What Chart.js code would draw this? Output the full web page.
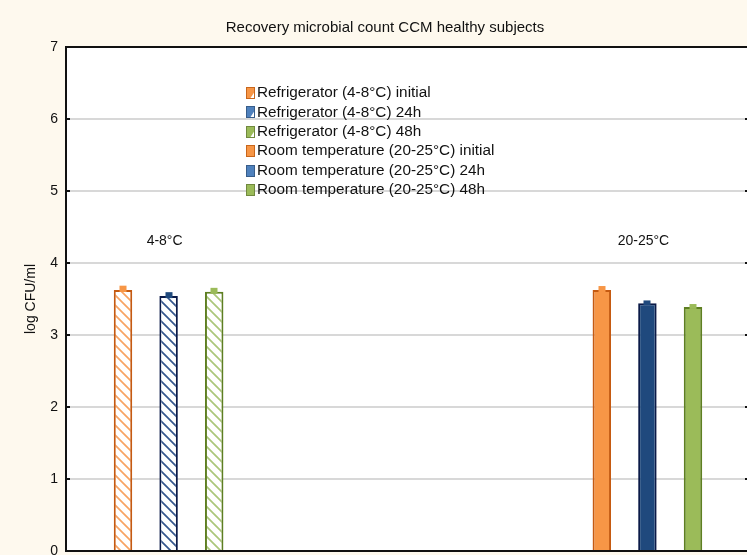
<!DOCTYPE html>
<html>
<head>
<meta charset="utf-8">
<script src="https://cdn.jsdelivr.net/npm/chart.js@4.4.1/dist/chart.umd.min.js"></script>
<style>
html,body{margin:0;padding:0;background:#FEF9EE;overflow:hidden;}
#wrap{width:747px;height:555px;position:relative;overflow:hidden;}
#c{position:absolute;left:0;top:0;}
</style>
</head>
<body>
<div id="wrap"><canvas id="c" width="760" height="580"></canvas></div>
<script>
// ---- data ----
const titleText = 'Recovery microbial count CCM healthy subjects';
const yAxisTitle = 'log CFU/ml';
const categories = ['4-8°C', '20-25°C'];
const seriesLabels = [
  'Refrigerator (4-8°C) initial',
  'Refrigerator (4-8°C) 24h',
  'Refrigerator (4-8°C) 48h',
  'Room temperature (20-25°C) initial',
  'Room temperature (20-25°C) 24h',
  'Room temperature (20-25°C) 48h'
];
const fridgeInitial = [3.625, null];
const fridge24h     = [3.54, null];
const fridge48h     = [3.60, null];
const roomInitial   = [null, 3.625];
const room24h       = [null, 3.44];
const room48h       = [null, 3.39];
const fridgeInitialErr = [0.06, null];
const fridge24hErr     = [0.055, null];
const fridge48hErr     = [0.055, null];
const roomInitialErr   = [null, 0.055];
const room24hErr       = [null, 0.04];
const room48hErr       = [null, 0.04];
const yTicks = [0, 1, 2, 3, 4, 5, 6, 7];

// ---- styles ----
const fills   = ['#F79646', '#1F497D', '#9BBB59'];
const borders = ['#C55A11', '#0B1A48', '#5E7F22'];
const hatchColors = ['#F8A463', '#35578E', '#ABC77B'];
const legendFills = ['#F79646', '#4F81BD', '#9BBB59'];
const legendBorders = ['#C8661C', '#385D8A', '#71893F'];
const TARGET = { left: 66, top: 47, right: 750, bottom: 551 };

function hatch(color) {
  const s = 10;
  const c = document.createElement('canvas');
  c.width = s; c.height = s;
  const g = c.getContext('2d');
  g.fillStyle = '#ffffff';
  g.fillRect(0, 0, s, s);
  g.strokeStyle = color;
  g.lineWidth = 1.7;
  g.beginPath();
  g.moveTo(-2, -2); g.lineTo(s + 2, s + 2);
  g.moveTo(-2, s - 2); g.lineTo(2, s + 2);
  g.moveTo(s - 2, -2); g.lineTo(s + 2, 2);
  g.stroke();
  return g.createPattern(c, 'repeat');
}

const valueSets = [fridgeInitial, fridge24h, fridge48h, roomInitial, room24h, room48h];
const errSets = [fridgeInitialErr, fridge24hErr, fridge48hErr, roomInitialErr, room24hErr, room48hErr];

const datasets = valueSets.map((vals, i) => {
  const k = i % 3;
  const hatched = i < 3;
  return {
    label: seriesLabels[i],
    data: vals,
    errors: errSets[i],
    backgroundColor: hatched ? hatch(hatchColors[k]) : fills[k],
    borderColor: borders[k],
    borderWidth: 2,
    capColor: fills[k],
    hatched: hatched,
    k: k,
    barPercentage: 0.405,
    categoryPercentage: 0.8
  };
});

const FONT = '"Liberation Sans", Arial, sans-serif';

const decorPlugin = {
  id: 'decor',
  beforeDraw(chart) {
    const {ctx, chartArea: a} = chart;
    ctx.save();
    ctx.fillStyle = '#FEF9EE';
    ctx.fillRect(0, 0, chart.width, chart.height);
    ctx.fillStyle = '#ffffff';
    ctx.fillRect(a.left, a.top, a.right - a.left, a.bottom - a.top);
    ctx.restore();
  },
  afterDatasetsDraw(chart) {
    const {ctx} = chart;
    const ys = chart.scales.y;
    ctx.save();
    chart.data.datasets.forEach((ds, di) => {
      const meta = chart.getDatasetMeta(di);
      meta.data.forEach((el, j) => {
        const v = ds.data[j];
        if (v === null || v === undefined) return;
        const e = ds.errors[j] || 0;
        const yTop = ys.getPixelForValue(v + e);
        ctx.fillStyle = ds.capColor;
        ctx.fillRect(Math.round(el.x) - 3.5, yTop, 7, el.y - yTop + 2);
      });
    });
    ctx.restore();
  },
  afterDraw(chart) {
    const {ctx, chartArea: a} = chart;
    const ys = chart.scales.y;
    ctx.save();
    // frame
    ctx.strokeStyle = '#111';
    ctx.lineWidth = 2;
    ctx.beginPath();
    ctx.moveTo(a.left, a.top); ctx.lineTo(a.right, a.top);
    ctx.stroke();
    // inward tick marks
    yTicks.forEach(t => {
      const y = Math.round(ys.getPixelForValue(t));
      ctx.beginPath();
      ctx.moveTo(a.left, y); ctx.lineTo(a.left + 4, y);
      ctx.moveTo(a.right, y); ctx.lineTo(a.right - 5, y);
      ctx.stroke();
    });
    // title
    ctx.fillStyle = '#111';
    ctx.font = '15px ' + FONT;
    ctx.textAlign = 'center';
    ctx.textBaseline = 'middle';
    ctx.fillText(titleText, 385, 28);
    // y axis title
    ctx.save();
    ctx.translate(31, (a.top + a.bottom) / 2);
    ctx.rotate(-Math.PI / 2);
    ctx.font = '14px ' + FONT;
    ctx.fillText(yAxisTitle, 0, 0);
    ctx.restore();
    // group labels
    ctx.font = '14px ' + FONT;
    categories.forEach((cat, j) => {
      const xs = [];
      chart.data.datasets.forEach((ds, di) => {
        if (ds.data[j] !== null) xs.push(chart.getDatasetMeta(di).data[j].x);
      });
      const cx = xs.reduce((s, x) => s + x, 0) / xs.length - 4;
      ctx.fillText(cat, cx, ys.getPixelForValue(4.3));
    });
    // legend
    ctx.textAlign = 'left';
    ctx.font = '15.3px ' + FONT;
    const lx = 246, ly0 = 93, step = 19.4;
    chart.data.datasets.forEach((ds, i) => {
      const y = ly0 + i * step;
      const k = ds.k;
      const bx = lx, by = Math.round(y - 6), bw = 9, bh = 12;
      ctx.fillStyle = legendFills[k];
      ctx.fillRect(bx, by, bw, bh);
      if (ds.hatched) {
        ctx.strokeStyle = '#ffffff';
        ctx.lineWidth = 2;
        ctx.beginPath();
        ctx.moveTo(bx + 5, by + bh); ctx.lineTo(bx + bw, by + 6);
        ctx.stroke();
        ctx.fillStyle = '#ffffff';
        ctx.fillRect(bx + 6, by + 9, 3, 3);
      }
      ctx.strokeStyle = legendBorders[k];
      ctx.lineWidth = 1;
      ctx.strokeRect(bx + 0.5, by + 0.5, bw - 1, bh - 1);
      ctx.fillStyle = '#111';
      ctx.fillText(ds.label, lx + 11, y);
    });
    ctx.restore();
  }
};

const chart = new Chart(document.getElementById('c'), {
  type: 'bar',
  data: { labels: categories, datasets: datasets },
  options: {
    responsive: false,
    animation: false,
    devicePixelRatio: 1,
    layout: { padding: { top: 47, right: 10, bottom: 29, left: 0 } },
    plugins: { legend: { display: false }, title: { display: false }, tooltip: { enabled: false } },
    scales: {
      x: {
        grid: { display: false, drawTicks: false },
        border: { display: true, color: '#111', width: 2 },
        ticks: { display: false },
        afterFit(s) { s.height = 0; }
      },
      y: {
        min: 0, max: 7,
        afterBuildTicks(s) { s.ticks = yTicks.map(v => ({ value: v })); },
        grid: { color: '#d8d8d8', lineWidth: 2, drawTicks: false },
        border: { display: true, color: '#111', width: 2 },
        ticks: { color: '#111', font: { family: FONT, size: 14 }, padding: 8 },
        afterFit(s) { s.width = 66; }
      }
    }
  },
  plugins: [decorPlugin]
});

// correct layout so the plot area lands exactly on the target box
for (let n = 0; n < 3; n++) {
  const a = chart.chartArea;
  const p = chart.options.layout.padding;
  const dT = TARGET.top - a.top, dB = a.bottom - TARGET.bottom, dR = a.right - TARGET.right;
  if (Math.abs(dT) < 0.5 && Math.abs(dB) < 0.5 && Math.abs(dR) < 0.5) break;
  p.top = Math.max(0, p.top + dT);
  p.bottom = Math.max(0, p.bottom + dB);
  p.right = Math.max(0, p.right + dR);
  chart.update();
}
</script>
</body>
</html>
